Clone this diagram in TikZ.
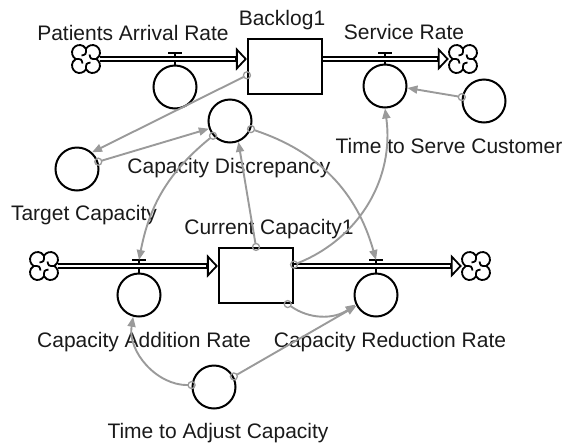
\documentclass[tikz,border=0pt]{standalone}
\usepackage{fontspec}
\setmainfont{Liberation Sans}
\usetikzlibrary{arrows.meta}
\definecolor{conncol}{HTML}{9A9A9A}
\definecolor{txtcol}{HTML}{1A1A1A}
\newcommand\vcloud[1]{%
  \begin{scope}[shift={(#1)}]
    \draw[cloudline] (0,-10.24) arc[start angle=-150,end angle=60,radius=7.5]
      arc[start angle=-60,end angle=150,radius=7.5]
      arc[start angle=30,end angle=240,radius=7.5]
      arc[start angle=120,end angle=330,radius=7.5] -- cycle;
    \draw[cloudline] (0,-10.24) .. controls (0,-4.5) .. (-4.5,-3.5);
    \draw[cloudline] (10.24,0) .. controls (4.5,0) .. (3.5,-4.5);
    \draw[cloudline] (0,10.24) .. controls (0,4.5) .. (4.5,3.5);
    \draw[cloudline] (-10.24,0) .. controls (-4.5,0) .. (-3.5,4.5);
  \end{scope}}
\begin{document}
\begin{tikzpicture}[x=1pt,y=-1pt,
  aux/.style={circle,draw=black,line width=2pt,minimum size=43pt,inner sep=0pt},
  stock/.style={rectangle,draw=black,line width=2.1pt,minimum width=74pt,minimum height=55pt,inner sep=0pt},
  cloudnode/.style={minimum width=28pt,minimum height=28pt,inner sep=0pt},
  lbl/.style={anchor=base,inner sep=0pt,text=txtcol,font=\fontsize{21}{25}\selectfont},
  pipe/.style={draw=black,line width=6.5pt,-{Triangle[length=11pt 0,width=23pt 0,line width=1.8pt,fill=white]},
     postaction={draw=white,line width=1.5pt,-,shorten >=12pt}},
  conn/.style={draw=conncol,line width=1.9pt,-{Triangle[length=10pt 0,width=8pt 0]},shorten <=3.8pt},
  orig/.style={draw=conncol,line width=1.3pt},
  valvebar/.style={draw=black,line width=2.8pt},
  valvestem/.style={draw=black,line width=1.9pt},
  cloudline/.style={draw=black,line width=1.8pt}
]
\useasboundingbox (0,0) rectangle (567,445);

% stocks
\node[stock] (backlog) at (285,66.5) {};
\node[stock] (cap) at (256,275.5) {};
% clouds
\node[cloudnode] (c1) at (86,59) {};
\node[cloudnode] (c2) at (463,59) {};
\node[cloudnode] (c3) at (44,266) {};
\node[cloudnode] (c4) at (476,266) {};
% auxiliaries
\node[aux] (par) at (175,87) {};
\node[aux] (serv) at (385,86) {};
\node[aux] (tts) at (484,101) {};
\node[aux] (target) at (77,169) {};
\node[aux] (disc) at (230,121) {};
\node[aux] (addr) at (139,295) {};
\node[aux] (redr) at (376,295) {};
\node[aux] (tac) at (214,387) {};
% valves
\coordinate (vP) at (175,53);
\coordinate (vS) at (385,53);
\coordinate (vA) at (139,260);
\coordinate (vR) at (376,260);
\draw[valvestem] (vP) -- (par.north);
\draw[valvestem] (vS) -- (serv.north);
\draw[valvestem] (vA) -- (addr.north);
\draw[valvestem] (vR) -- (redr.north);
% pipes
\draw[pipe] (c1.east) -- (c1 -| backlog.west);
\draw[pipe] (backlog.east |- c2) -- (c2.west);
\draw[pipe] (c3.east) -- (c3 -| cap.west);
\draw[pipe] (cap.east |- c4) -- (c4.west);
\draw[valvebar] ([xshift=-7pt]vP) -- ([xshift=7pt]vP);
\draw[valvebar] ([xshift=-7pt]vS) -- ([xshift=7pt]vS);
\draw[valvebar] ([xshift=-7pt]vA) -- ([xshift=7pt]vA);
\draw[valvebar] ([xshift=-7pt]vR) -- ([xshift=7pt]vR);
\vcloud{c1.center}
\vcloud{c2.center}
\vcloud{c3.center}
\vcloud{c4.center}

% labels
\node[lbl] (lpar) at (133,40) {Patients Arrival Rate};
\node[lbl] (lback) at (282,25) {Backlog1};
\node[lbl] (lserv) at (404,39) {Service Rate};
\node[lbl] (ltts) at (449,153) {Time to Serve Customer};
\node[lbl] (ldisc) at (229,173) {Capacity Discrepancy};
\node[lbl] (ltarget) at (84,220) {Target Capacity};
\node[lbl] (lcap) at (269,234) {Current Capacity1};
\node[lbl] (laddr) at (144,347) {Capacity Addition Rate};
\node[lbl] (lredr) at (390,347) {Capacity Reduction Rate};
\node[lbl] (ltac) at (218,438) {Time to Adjust Capacity};

% connectors
\draw[conn] (backlog.193) -- (target.48);
\draw[conn] (target.19) -- (disc.200);
\draw[conn] (cap.north) -- (disc.292);
\draw[conn] (disc.221) to[bend right=20] (vA);
\draw[conn] (disc.339) to[bend left=28] (vR);
\draw[conn] (cap.16) to[bend right=38] (serv.south);
\draw[conn] (tts.170) -- (serv.355);
\draw[conn] (tac.175) to[bend left=50] (addr.255);
\draw[conn] (tac.28) -- (redr.209);
\draw[conn] (cap.318) to[bend right=35] (redr.205);
% connector origins
\foreach \p in {backlog.193,target.19,cap.north,disc.221,disc.339,cap.16,tts.170,tac.175,tac.28,cap.318}
  \draw[orig] (\p) circle[radius=3.5pt];
\end{tikzpicture}
\end{document}
